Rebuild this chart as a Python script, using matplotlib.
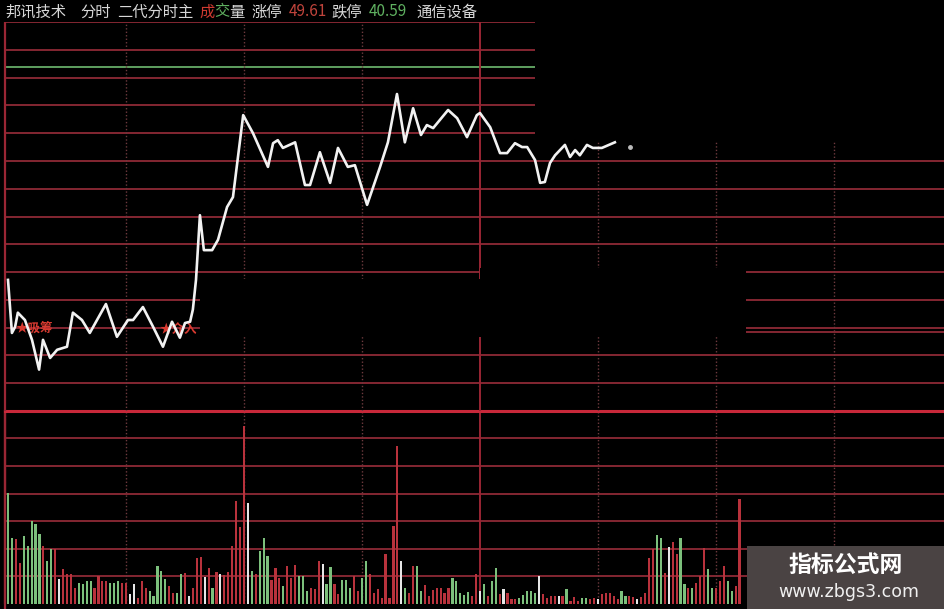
import numpy as np
import matplotlib.pyplot as plt
from matplotlib.patches import Rectangle

plt.rcParams['font.family'] = ['Noto Sans CJK SC', 'DejaVu Sans']

# limits shown in the header
LIMIT_UP = 49.61
LIMIT_DOWN = 40.59
GREEN_LEVEL = 48.57

# price line (minute, price)
minutes = [0, 1, 1.8, 2.5, 4.3, 6.1, 7.9, 8.9, 10.7, 12.5,
           15, 16.5, 18.8, 20.8, 24.9, 27.7, 30.5, 31.8, 34.3, 36.9,
           39.4, 41.7, 43.7, 45, 46.3, 47, 47.8, 48.8, 49.8, 51.9,
           53.4, 55.7, 57.2, 59.8, 62.3, 66.1, 67.4, 68.6, 69.9, 73,
           75.5, 76.8, 79.3, 81.9, 83.9, 86.4, 88.2, 91.3, 94.6, 96.6,
           98.9, 100.9, 103, 105, 106.5, 108.1, 111.9, 114.2, 116.7, 119.2,
           120, 122.6, 125.1, 126.9, 128.9, 130.7, 132, 134, 135.3, 136.5,
           137.8, 139.1, 141.6, 142.9, 144.2, 145.4, 147.2, 148.7, 151, 154.3]
prices = [43.63, 42.40, 42.54, 42.87, 42.70, 42.24, 41.55, 42.24, 41.82, 42.01,
          42.08, 42.87, 42.70, 42.40, 43.07, 42.31, 42.70, 42.70, 43.00, 42.54,
          42.08, 42.66, 42.29, 42.63, 42.66, 42.94, 43.63, 45.13, 44.32, 44.32,
          44.56, 45.32, 45.55, 47.45, 47.03, 46.25, 46.80, 46.87, 46.69, 46.82,
          45.83, 45.83, 46.59, 45.88, 46.69, 46.25, 46.29, 45.37, 46.25, 46.82,
          47.94, 46.82, 47.61, 46.99, 47.22, 47.15, 47.57, 47.38, 46.94, 47.45,
          47.50, 47.17, 46.57, 46.57, 46.80, 46.71, 46.71, 46.41, 45.88, 45.90,
          46.34, 46.52, 46.76, 46.48, 46.64, 46.52, 46.76, 46.69, 46.69, 46.82]
last_minute = 158.2
last_price = 46.71

# volume per minute, colour code R/G/W
volume = [111, 66, 65, 41, 68, 58, 83, 80, 70, 58, 43, 55, 55, 25, 35, 30, 30, 16, 21, 20,
          23, 23, 16, 28, 23, 23, 21, 21, 23, 21, 21, 10, 20, 6, 23, 16, 13, 8, 38, 33,
          25, 18, 11, 11, 30, 31, 8,
          16, 46, 47, 27, 36, 16, 32, 30, 29, 32, 58, 103, 77, 178, 101, 33, 30, 53, 66, 48,
          24, 36, 26, 18, 38, 26, 39, 28, 28, 13, 16, 15, 43, 40, 20, 37, 20, 10, 24, 24,
          16, 28, 13, 26, 43, 30, 11, 15,
          6, 50, 6, 78, 158, 43, 16, 11, 38, 38, 13, 19, 8, 14, 16, 16, 11, 16, 26, 23,
          11, 9, 12, 8, 30, 13, 20, 8, 23, 36, 10, 15, 11, 5, 5, 6, 9, 13, 13, 11,
          28, 10, 6, 8, 8, 8, 8,
          15, 3, 7, 3, 6, 6, 5, 6, 5, 10, 11, 11, 8, 5, 13, 8, 8, 7, 5, 7,
          11, 46, 55, 69, 66, 31, 57, 62, 50, 66, 20, 16, 16, 21, 28, 56, 35, 16, 16, 23,
          38, 23, 13, 18, 105]
vol_dir = ("GGRRGGGGGRGGRWRRRRGGGGRRRRGGGRRWWRRRGGGGGRRGGRW"
           "RRRWRGRWRRRRRRWGRGGGRRRGRRRGGGRRRWGGRRGGGRRGGRRR"
           "RRRRRWGRRGGRRRRRRRGGGGGRRWGRGGRWRRRGGGGGWRRRRWR"
           "GRRRGGRRWRRRRRGGRRWRRRRGGRWRRGGRGRRRGGRRRGGRR")

W, H = 945, 609
PX_PER_MIN = 3.933
X0 = 8
T0 = -X0 / PX_PER_MIN
T1 = (W - X0) / PX_PER_MIN


def t_of(px):
    return (px - X0) / PX_PER_MIN


def p_of(py):
    return LIMIT_DOWN + (411 - py) / 389 * (LIMIT_UP - LIMIT_DOWN)


def box(x0, y0, x1, y1):
    return [x0 / W, 1 - y1 / H, (x1 - x0) / W, (y1 - y0) / H]


GRID = '#8e2a36'
DOT = '#6e3a3e'
bar_colors = {'R': '#b8323c', 'G': '#7cc07c', 'W': '#e6e6e6'}

fig = plt.figure(figsize=(W / 100, H / 100), dpi=100, facecolor='black')

ax = fig.add_axes(box(0, 22, W, 411), zorder=2)
axv = fig.add_axes(box(0, 411, W, 604), zorder=1)
for a in (ax, axv):
    a.set_facecolor('none')
    a.set_xlim(T0, T1)
    a.axis('off')
ax.set_ylim(LIMIT_DOWN, LIMIT_UP)
axv.set_ylim(0, 193)

# price grid
levels = np.linspace(LIMIT_DOWN, LIMIT_UP, 15)
for lv in levels[1:]:
    ax.axhline(lv, xmin=5 / W, color=GRID, lw=1.3, zorder=1)
ax.axhline(LIMIT_DOWN, xmin=5 / W, color='#c8283a', lw=2.2, zorder=1, clip_on=False)
ax.axhline(p_of(332), xmin=746 / W, color=GRID, lw=1.3, zorder=1)
ax.axhline(GREEN_LEVEL, xmin=5 / W, color='#5fa060', lw=1.4, zorder=1)

# volume grid
for lv in np.arange(27.6, 193, 27.6):
    axv.axhline(lv, xmin=5 / W, color=GRID, lw=1.3, zorder=1)

for a in (ax, axv):
    for t in [30, 60, 90, 150, 180, 210]:
        a.axvline(t, color=DOT, lw=1.0, ls=(0, (1, 1.5)), zorder=1)
    a.axvline(120, color='#9a2634', lw=1.4, zorder=1)
    a.axvline(t_of(5), color='#9a2634', lw=1.6, zorder=1)
axv.axvline(t_of(5), ymin=-0.05, color='#9a2634', lw=1.6, clip_on=False)

# black patches pasted over the grid
for (xa, ya, xb, yb) in [(535, -5, 950, 142), (200, 279, 480, 337), (480, 268, 746, 337)]:
    ax.add_patch(Rectangle((t_of(xa), p_of(yb)), t_of(xb) - t_of(xa), p_of(ya) - p_of(yb),
                           facecolor='black', edgecolor='none', zorder=2, clip_on=False))

# price line
ax.plot(minutes, prices, color='#f2f2f2', lw=1.9, zorder=4, clip_on=False)
ax.plot([last_minute], [last_price], marker='o', ms=2.5, color='#bbbbbb', zorder=4)

ax.text(6.6, 42.52, '★吸筹', color='#d83a30', fontsize=9, ha='center', va='center',
        zorder=3, fontweight='bold')
ax.text(43.2, 42.47, '★介入', color='#d83a30', fontsize=9, ha='center', va='center',
        zorder=3, fontweight='bold')

# volume bars
t_vol = np.arange(len(volume))
axv.bar(t_vol, volume, width=0.55, color=[bar_colors[c] for c in vol_dir], zorder=3)

# header
hdr = [(5, '邦讯技术', '#d8d8d8'), (80, '分时', '#d8d8d8'), (117, '二代分时主', '#d8d8d8'),
       (199, '成', '#d03a30'), (214, '交', '#5fb060'), (229, '量', '#d8d8d8'),
       (251, '涨停', '#d8d8d8'), (289, '49.61', '#c0443c'), (331, '跌停', '#d8d8d8'),
       (369, '40.59', '#5fb060'), (416, '通信设备', '#d8d8d8')]
for x, s, c in hdr:
    fig.text(x / W, 1 - 12 / H, s, color=c, fontsize=11, ha='left', va='center')

# watermark
fig.patches.append(Rectangle((747 / W, 0), 198 / W, 63 / H, transform=fig.transFigure,
                             facecolor='#4a4343', edgecolor='none', zorder=10))
fig.text(846 / W, 1 - 565 / H, '指标公式网', color='white', fontsize=16.5,
         fontweight='bold', ha='center', va='center', zorder=11)
fig.text(849 / W, 1 - 592 / H, 'www.zbgs3.com', color='#f0f0f0', fontsize=12.5,
         ha='center', va='center', zorder=11, family='DejaVu Sans')

fig.savefig('out.png', dpi=100, facecolor='black')
